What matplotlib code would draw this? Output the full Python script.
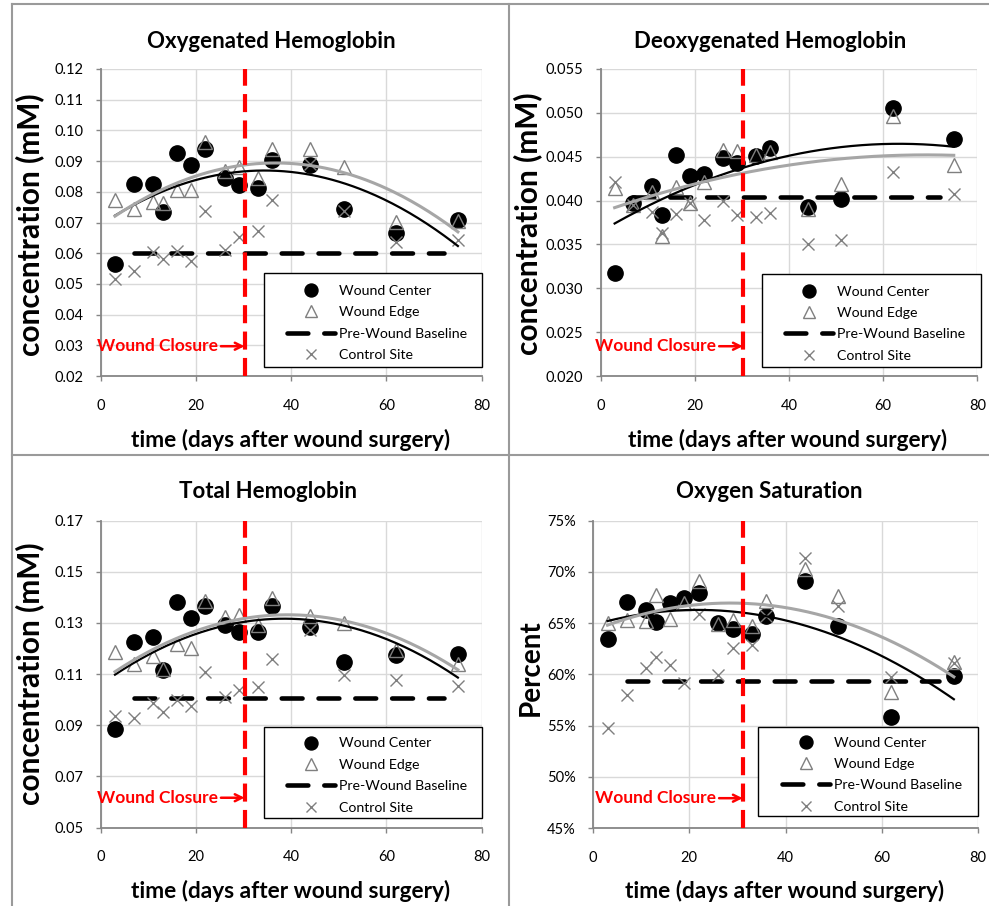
import numpy as np
import matplotlib
matplotlib.use("Agg")
import matplotlib.pyplot as plt
from matplotlib.lines import Line2D
from matplotlib.patches import Rectangle
from matplotlib.ticker import FormatStrFormatter, PercentFormatter, MultipleLocator

plt.rcParams['font.family'] = ['Lato', 'DejaVu Sans']
plt.rcParams['lines.scale_dashes'] = False

# days after wound surgery
days = [3, 7, 11, 13, 16, 19, 22, 26, 29, 33, 36, 44, 51, 62, 75]
baseline_days = [7, 72]

oxy_center = [0.0565, 0.0826, 0.0826, 0.0735, 0.0927, 0.0888, 0.0940, 0.0844,
              0.0821, 0.0811, 0.0905, 0.0886, 0.0745, 0.0665, 0.0709]
oxy_edge = [0.0774, 0.0745, 0.0766, 0.0763, 0.0805, 0.0805, 0.0963, 0.0867,
            0.0880, 0.0845, 0.0941, 0.0938, 0.0880, 0.0700, 0.0706]
oxy_control = [0.0515, 0.0543, 0.0604, 0.0581, 0.0607, 0.0576, 0.0736, 0.0612,
               0.0654, 0.0671, 0.0773, 0.0890, 0.0738, 0.0638, 0.0644]
oxy_baseline = 0.0600

deoxy_center = [0.0317, 0.0397, 0.0417, 0.0384, 0.0452, 0.0428, 0.0430, 0.0449,
                0.0443, 0.0451, 0.0460, 0.0393, 0.0402, 0.0506, 0.0470]
deoxy_edge = [0.0414, 0.0395, 0.0410, 0.0360, 0.0416, 0.0397, 0.0421, 0.0458,
              0.0456, 0.0452, 0.0455, 0.0390, 0.0419, 0.0496, 0.0440]
deoxy_control = [0.0421, 0.0395, 0.0387, 0.0363, 0.0385, 0.0397, 0.0378, 0.0400,
                 0.0384, 0.0381, 0.0386, 0.0350, 0.0355, 0.0433, 0.0408]
deoxy_baseline = 0.0404

total_center = [0.0886, 0.1224, 0.1246, 0.1117, 0.1381, 0.1318, 0.1365, 0.1292,
                0.1265, 0.1263, 0.1365, 0.1283, 0.1148, 0.1175, 0.1178]
total_edge = [0.1186, 0.1138, 0.1172, 0.1121, 0.1219, 0.1202, 0.1385, 0.1322,
              0.1333, 0.1291, 0.1398, 0.1329, 0.1300, 0.1195, 0.1140]
total_control = [0.0936, 0.0930, 0.0986, 0.0953, 0.0997, 0.0976, 0.1110, 0.1012,
                 0.1038, 0.1051, 0.1159, 0.1271, 0.1097, 0.1078, 0.1054]
total_baseline = 0.1006

sat_center = [63.46, 67.06, 66.24, 65.10, 66.92, 67.45, 67.90, 65.00,
              64.47, 63.92, 65.72, 69.15, 64.74, 55.85, 59.83]
sat_edge = [65.00, 65.32, 65.16, 67.77, 65.39, 66.96, 69.08, 64.93,
            65.32, 64.74, 67.12, 70.32, 67.61, 58.29, 61.24]
sat_control = [54.80, 57.97, 60.65, 61.73, 60.91, 59.12, 65.91, 59.93,
               62.55, 62.87, 65.65, 71.37, 66.63, 59.77, 61.08]
sat_baseline = 59.34

titles = ["Oxygenated Hemoglobin", "Deoxygenated Hemoglobin",
          "Total Hemoglobin", "Oxygen Saturation"]
ylabels = ["concentration (mM)", "concentration (mM)",
           "concentration (mM)", "Percent"]
closure_days = [30.2, 30.2, 30.2, 31.1]

W, H = 989, 906
fig = plt.figure(figsize=(W / 100, H / 100), dpi=100)


def fx(px):
    return px / W


def fy(py):
    return 1 - py / H


def trend(x, y):
    c = np.polyfit(x, y, 2)
    xs = np.linspace(x[0], x[-1], 200)
    return xs, np.polyval(c, xs)


# chart-area border lines (Excel style grid of four charts)
border = '#9a9a9a'
for xs, ys in [([12, 12], [4, 906]), ([509, 509], [4, 906]),
               ([12, 989], [4, 4]), ([12, 989], [455, 455])]:
    fig.add_artist(Line2D([fx(v) for v in xs], [fy(v) for v in ys],
                          color=border, lw=1.5))

# layout in pixels: (left, top, right, bottom)
boxes = [(100.7, 69, 481.7, 376), (600.5, 69, 977.3, 376),
         (100.7, 520.7, 481.7, 827.5), (593.1, 520.7, 977.9, 828)]
legend_boxes = [(264, 273, 482, 367), (761.7, 274, 980.7, 367.3),
                (264, 726.7, 482, 818.3), (758, 727.3, 978, 816)]
title_pos = [(271, 42), (770, 42), (268, 492), (769, 492)]
xlabel_pos = [(291, 440), (788, 440), (291, 891), (785, 891)]
ylabel_pos = [(30, 225), (528, 224), (30, 674), (531, 668)]
ylabel_size = [21.5, 21.5, 21.5, 20]

series = [
    (oxy_center, oxy_edge, oxy_control, oxy_baseline, (0.02, 0.12), 0.01, '%.2f'),
    (deoxy_center, deoxy_edge, deoxy_control, deoxy_baseline, (0.02, 0.055), 0.005, '%.3f'),
    (total_center, total_edge, total_control, total_baseline, (0.05, 0.17), 0.02, '%.2f'),
    (sat_center, sat_edge, sat_control, sat_baseline, (45, 75), 5, 'pct'),
]

spine_c = '#868686'
for i, (center, edge, control, base, ylim, step, fmt) in enumerate(series):
    l, t, r, b = boxes[i]
    ax = fig.add_axes([fx(l), fy(b), (r - l) / W, (b - t) / H])

    ax.plot(days, center, 'o', color='black', ms=11, label='Wound Center', zorder=3)
    ax.plot(days, edge, '^', mfc='none', mec='#7f7f7f', mew=1, ms=10,
            label='Wound Edge', zorder=4)
    ax.plot(baseline_days, [base, base], color='black', lw=3.3,
            dashes=(15, 11.5), dash_capstyle='round', label='Pre-Wound Baseline', zorder=2)
    ax.plot(days, control, 'x', color='#7f7f7f', mew=1, ms=9, label='Control Site', zorder=5)

    xs, ys = trend(days, center)
    ax.plot(xs, ys, color='black', lw=1.6, zorder=6)
    xs, ys = trend(days, edge)
    ax.plot(xs, ys, color='#a6a6a6', lw=2.2, zorder=6)

    ax.axvline(closure_days[i], color='#ff0000', lw=3, dashes=(13, 6), zorder=7)
    ax.annotate('Wound Closure', xy=(closure_days[i], 0.097),
                xycoords=('data', 'axes fraction'),
                xytext=(-19, 0), textcoords='offset points',
                ha='right', va='center', color='#ff0000', fontsize=12.5,
                fontweight='bold',
                arrowprops=dict(arrowstyle='->', color='#ff0000', lw=1.8,
                                shrinkA=0, shrinkB=0), zorder=8)

    ax.set_xlim(0, 80)
    ax.set_ylim(*ylim)
    ax.xaxis.set_major_locator(MultipleLocator(20))
    ax.set_yticks(np.arange(ylim[0], ylim[1] + step / 2, step))
    if fmt == 'pct':
        ax.yaxis.set_major_formatter(PercentFormatter(xmax=100, decimals=0))
    else:
        ax.yaxis.set_major_formatter(FormatStrFormatter(fmt))
    ax.grid(True, color='#d9d9d9', lw=1)
    ax.set_axisbelow(True)
    for s in ['top', 'right']:
        ax.spines[s].set_visible(False)
    for s in ['left', 'bottom']:
        ax.spines[s].set_color(spine_c)
        ax.spines[s].set_linewidth(1.3)
    ax.tick_params(axis='both', direction='out', length=3.5, width=1,
                   color=spine_c, labelsize=10.5)
    ax.tick_params(axis='y', pad=9)
    ax.tick_params(axis='x', pad=13)

    # legend: frame drawn as a box, entries centred in it
    ll, lt, lr, lb = legend_boxes[i]
    ax.add_patch(Rectangle((fx(ll), fy(lb)), (lr - ll) / W, (lb - lt) / H,
                           transform=fig.transFigure, facecolor='white',
                           edgecolor='black', lw=1, clip_on=False, zorder=9))
    leg = ax.legend(loc='center', frameon=False,
                    bbox_to_anchor=(fx((ll + lr) / 2 + 4), fy((lt + lb) / 2 + 3)),
                    bbox_transform=fig.transFigure, fontsize=10.2,
                    handlelength=3.4, handletextpad=0.3, labelspacing=0.66,
                    borderpad=0, borderaxespad=0, markerscale=0.85)
    leg.set_zorder(10)

    tx, ty = title_pos[i]
    fig.text(fx(tx), fy(ty), titles[i], ha='center', va='center',
             fontsize=16, fontweight='bold')
    tx, ty = xlabel_pos[i]
    fig.text(fx(tx), fy(ty), 'time (days after wound surgery)', ha='center',
             va='center', fontsize=16.3, fontweight='bold')
    tx, ty = ylabel_pos[i]
    fig.text(fx(tx), fy(ty), ylabels[i], ha='center', va='center',
             rotation=90, fontsize=ylabel_size[i], fontweight='bold')

fig.savefig('out.png', dpi=100)
